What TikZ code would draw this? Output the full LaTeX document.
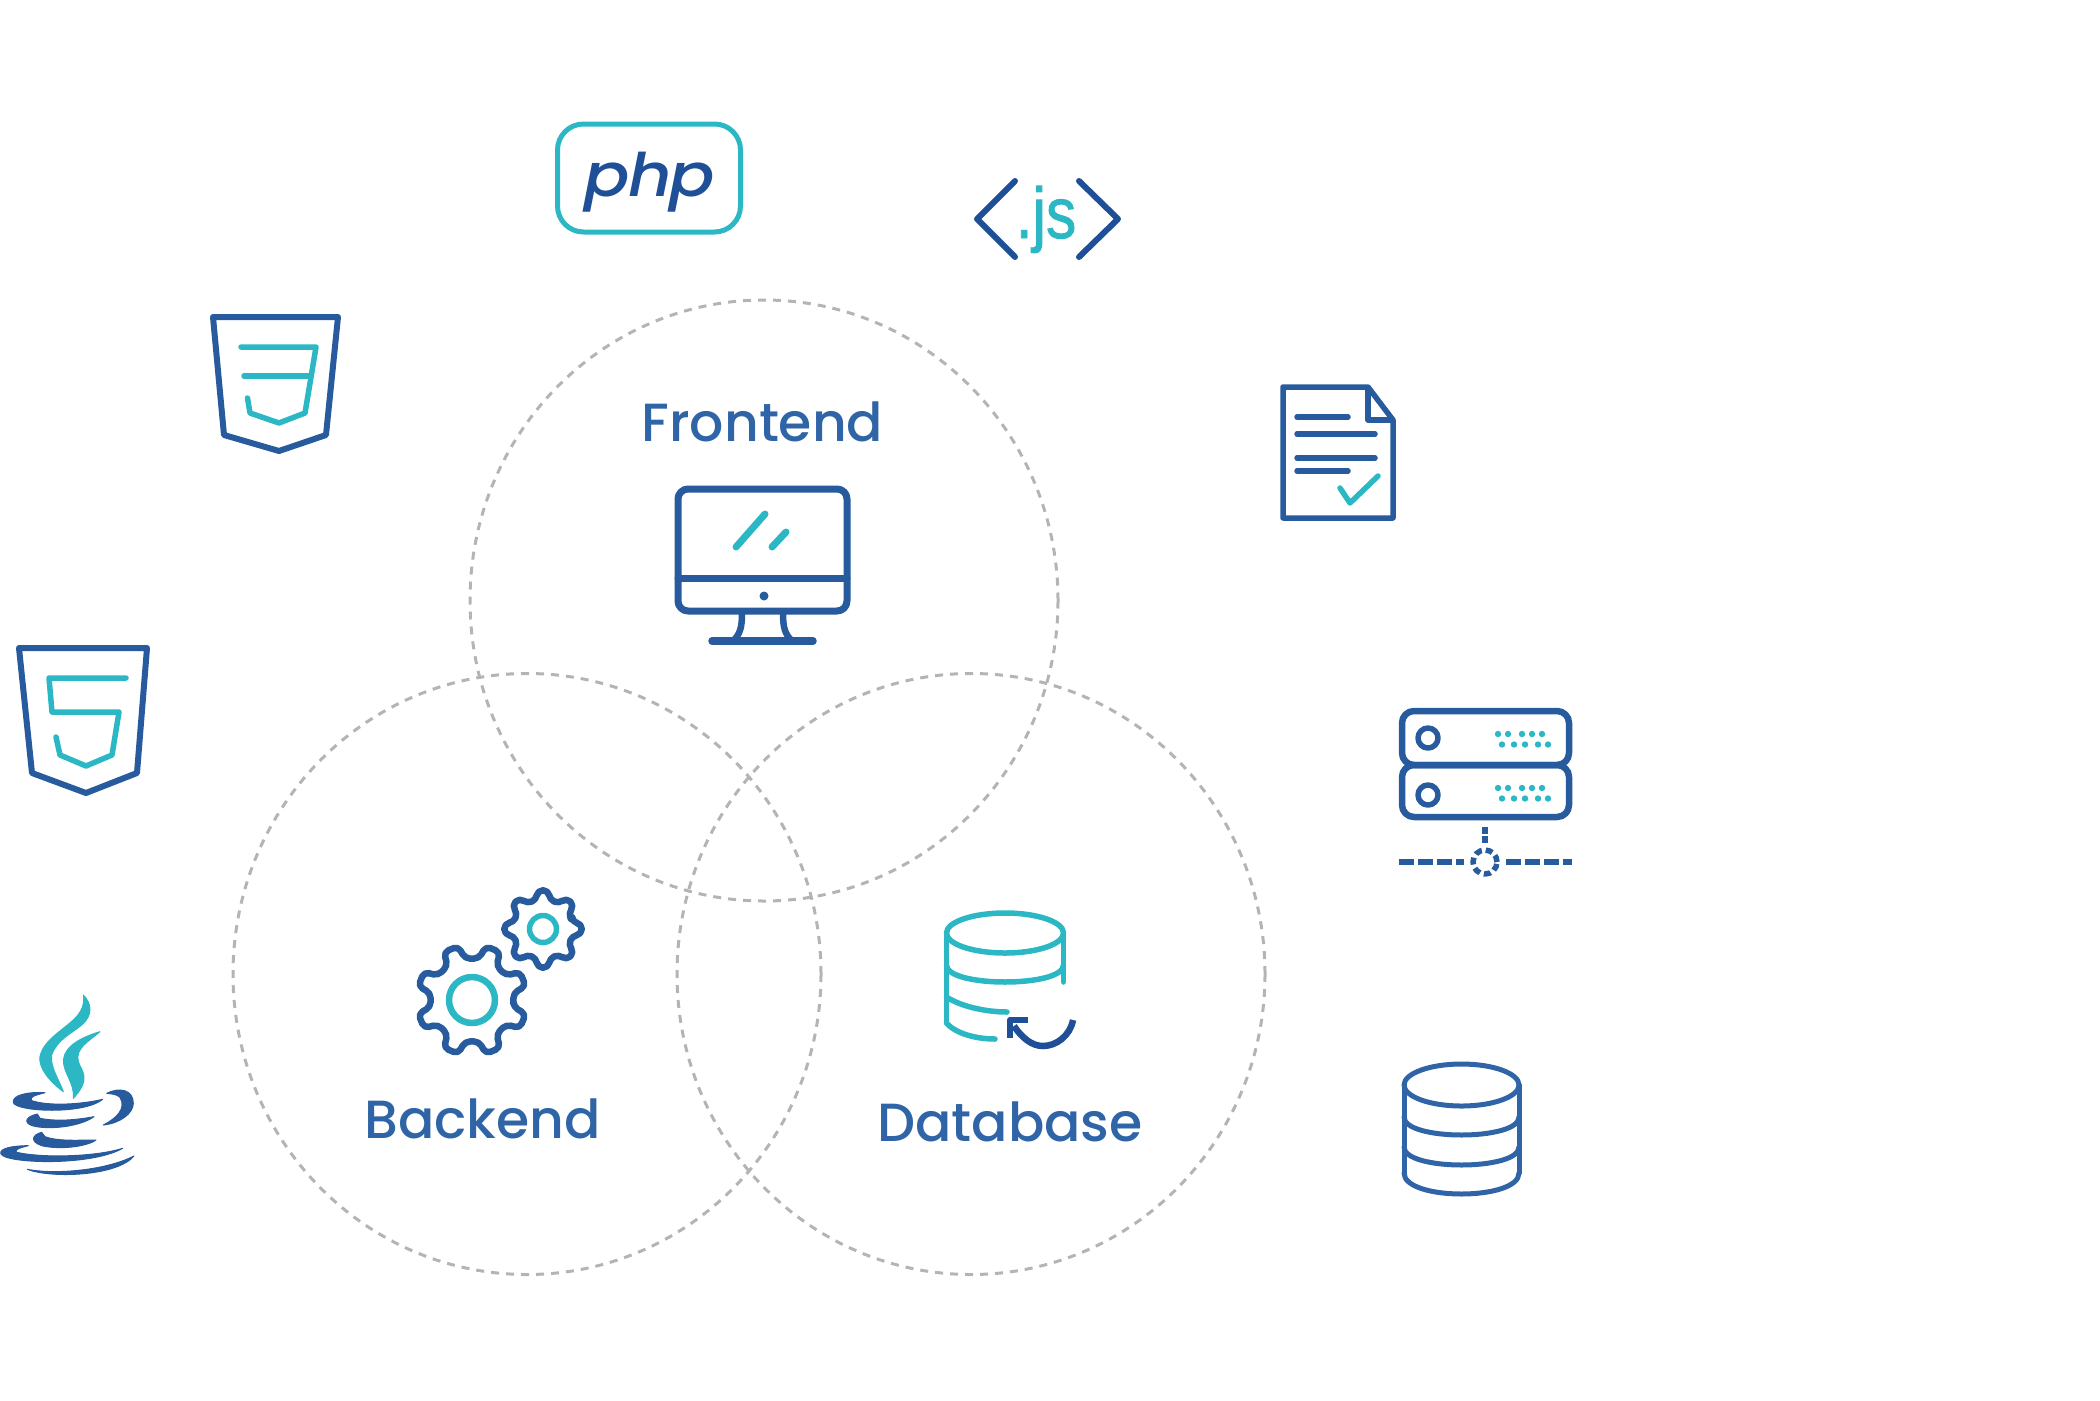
\documentclass[tikz,border=0pt]{standalone}
\usepackage{fontspec}
\newfontfamily\pop{Poppins}[UprightFont=* Medium,ItalicFont=* Medium Italic]
\newfontfamily\lib{Liberation Sans}[FakeBold=1.3]
\definecolor{navy}{HTML}{275B9E}
\definecolor{deep}{HTML}{1F4F96}
\definecolor{labelblue}{HTML}{2F65A6}
\definecolor{teal}{HTML}{2BB8C4}
\definecolor{ring}{HTML}{B4B4B4}
\tikzset{
  ringline/.style={draw=ring,line width=3pt,dash pattern=on 8pt off 7pt},
  navyline/.style={draw=navy,line width=#1,line join=round,line cap=round},
  navyline/.default=6pt,
  tealline/.style={draw=teal,line width=#1,line join=round,line cap=round},
  tealline/.default=5.5pt,
  label/.style={font=\pop\fontsize{53.7}{53.7}\selectfont,text=labelblue,anchor=base,inner sep=0pt}
}
\newcommand{\lowerarc}[4]{(#1,#3) .. controls (#1,#3+#4*1.333) and (#2,#3+#4*1.333) .. (#2,#3)}
\newcommand{\gearshape}[5]{% x y outer valley phase
  \draw[navyline=6.5pt,rounded corners=5pt]
    ($(#1,#2)+(#5-13:#4pt and -#4pt)$)
    \foreach \a in {0,45,...,315}{
      -- ($(#1,#2)+(#5+\a-13:#4pt and -#4pt)$)
      -- ($(#1,#2)+(#5+\a-8:#3pt and -#3pt)$)
      -- ($(#1,#2)+(#5+\a+8:#3pt and -#3pt)$)
      -- ($(#1,#2)+(#5+\a+13:#4pt and -#4pt)$)
    } -- cycle;}
\usetikzlibrary{calc}
\begin{document}
\begin{tikzpicture}[x=1pt,y=-1pt]
\useasboundingbox (0,0) rectangle (2100,1400);
% rings
\draw[ringline] (764,600.5) ellipse [x radius=294pt,y radius=300.5pt];
\draw[ringline] (527,974) ellipse [x radius=294pt,y radius=300.5pt];
\draw[ringline] (971,974) ellipse [x radius=294pt,y radius=300.5pt];
% labels
\node[label] (frontend) at (762.5,441.5) {Frontend};
\node[label] (backend) at (482.5,1138) {Backend};
\node[label] (database) at (1010,1141) {Database};
% php
\draw[draw=teal,line width=5pt,rounded corners=26pt] (557.5,124) rectangle (740.5,232);
\node[font=\pop\itshape\fontsize{60}{60}\selectfont,text=deep,anchor=base,inner sep=0pt,xscale=1.12,transform shape] (php) at (650,196) {p\kern-2pt h\kern-2pt p};
% js
\draw[navyline=6pt,draw=deep] (1015,181) -- (977,219) -- (1015,257);
\draw[navyline=6pt,draw=deep] (1079,181) -- (1118,219) -- (1079,257);
\node[font=\lib\fontsize{72}{72}\selectfont,text=teal,anchor=base,inner sep=0pt,xscale=.84,transform shape] (js) at (1046,238) {.js};
% css shield
\draw[navyline] (213,317) -- (338,317) -- (326,435) -- (279,451) -- (224,435) -- cycle;
\draw[tealline] (241,347) -- (316,347) -- (305,413) -- (279,423) -- (250,413) -- (247.5,398);
\draw[tealline] (244,376) -- (310,376);
% html shield
\draw[navyline] (19,648) -- (147,648) -- (137,773) -- (86,793) -- (32,773) -- cycle;
\draw[tealline] (126,678) -- (49,678) -- (52,712) -- (119,712) -- (112,755) -- (86,766) -- (60,755) -- (56,737);
% document
\draw[navyline=5.5pt,line cap=butt] (1283,387) -- (1368,387) -- (1393,420) -- (1393,518) -- (1283,518) -- cycle;
\draw[navyline=5.5pt,line cap=butt] (1368,387) -- (1368,420) -- (1393,420);
\draw[navyline=5.5pt] (1297,417) -- (1348,417);
\draw[navyline=5.5pt] (1297,434) -- (1375,434);
\draw[navyline=5.5pt] (1297,458) -- (1375,458);
\draw[navyline=5.5pt] (1297,471) -- (1348,471);
\draw[tealline] (1340,488) -- (1350,503) -- (1378,476);
% monitor
\draw[navyline=7pt,rounded corners=10pt] (678,489) rectangle (847,611);
\draw[navyline=7pt] (678,578) -- (847,578);
\fill[navy] (764,596) circle [radius=4.5pt];
\draw[tealline=7pt] (736,547) -- (765,514);
\draw[tealline=7pt] (772,547) -- (786,532);
\draw[navyline=6.5pt] (742,613) .. controls (742,628) and (740,634) .. (733,641);
\draw[navyline=6.5pt] (783,613) .. controls (783,628) and (785,634) .. (792,641);
\draw[navyline=7.5pt] (712,641) -- (813,641);
% gears
\gearshape{472}{1000}{55.5}{42}{22.5}
\gearshape{543}{929}{39}{30}{0}
\draw[tealline=6.5pt] (472,1000) circle [radius=23pt];
\draw[tealline=5.5pt] (543,929) circle [radius=13.5pt];
% teal db
\draw[tealline] (1005,933) ellipse [x radius=58.5pt,y radius=20pt];
\draw[tealline] (946.5,933) -- (946.5,1023);
\draw[tealline] (1063.5,933) -- (1063.5,982);
\draw[tealline] \lowerarc{946.5}{1063.5}{965}{17};
\draw[tealline] (946.5,997) .. controls (960,1006) and (985,1012) .. (1007,1012);
\draw[tealline] (946.5,1023) .. controls (955,1033) and (975,1039) .. (995,1039);
\draw[navyline=6.5pt,draw=deep,line cap=butt] (1073,1020) .. controls (1070,1036) and (1056,1046) .. (1043,1046) .. controls (1032,1046) and (1022,1038) .. (1014,1026);
\draw[navyline=6.5pt,draw=deep,line cap=butt] (1028,1020) -- (1010,1020) -- (1010,1038);
% server
\draw[navyline=6.5pt,rounded corners=12pt] (1402,711) rectangle (1569,765);
\draw[navyline=6.5pt,rounded corners=12pt] (1402,765) rectangle (1569,817);
\draw[navyline=5.5pt] (1428,738) circle [radius=10pt];
\draw[navyline=5.5pt] (1428,795) circle [radius=10pt];
\foreach \yy in {734,788}{
  \foreach \xx in {1498,1508,1522,1532,1542}{\fill[teal] (\xx,\yy) circle [radius=3.2pt];}
  \foreach \xx in {1502,1514,1525,1538,1548}{\fill[teal] (\xx,\yy+10.5) circle [radius=3.2pt];}
}
\draw[navyline=5.5pt,line cap=butt,dash pattern=on 7pt off 2pt] (1485,827) -- (1485,845);
\draw[navyline=5.5pt,line cap=butt,dash pattern=on 7pt off 4pt] (1485,862) circle [radius=12pt];
\draw[navyline=5.5pt,line cap=butt,dash pattern=on 15pt off 4pt] (1399,862) -- (1464,862);
\draw[navyline=5.5pt,line cap=butt,dash pattern=on 15pt off 4pt] (1506,862) -- (1572,862);
% right db
\draw[navyline=5pt,draw=labelblue] (1461.5,1085) ellipse [x radius=57.5pt,y radius=21pt];
\draw[navyline=5pt,draw=labelblue] (1404,1085) -- (1404,1173);
\draw[navyline=5pt,draw=labelblue] (1519,1085) -- (1519,1173);
\draw[navyline=5pt,draw=labelblue] \lowerarc{1404}{1519}{1117}{18};
\draw[navyline=5pt,draw=labelblue] \lowerarc{1404}{1519}{1147}{18};
\draw[navyline=5pt,draw=labelblue] \lowerarc{1404}{1519}{1173}{21};
% java
\begin{scope}[shift={(0,980)},x=0.3333pt,y=-0.3333pt,line width=1pt,line join=round]
\filldraw[teal] (250,45) .. controls (275,70) and (280,105) .. (245,135) .. controls (215,160) and (170,180) .. (155,225) .. controls (150,260) and (175,295) .. (190,335) .. controls (150,305) and (115,265) .. (120,230) .. controls (130,180) and (190,150) .. (225,115) .. controls (245,95) and (255,70) .. (250,45) -- cycle;
\filldraw[teal] (300,155) .. controls (265,185) and (225,205) .. (235,245) .. controls (245,275) and (275,295) .. (220,355) .. controls (225,310) and (190,280) .. (190,240) .. controls (195,195) and (250,170) .. (300,155) -- cycle;
\filldraw[navy] (135,338) .. controls (85,335) and (35,345) .. (40,368) .. controls (50,395) and (250,405) .. (308,358) .. controls (250,372) and (150,380) .. (95,362) .. controls (85,350) and (110,345) .. (135,338) -- cycle;
\filldraw[navy] (320,340) .. controls (360,320) and (400,330) .. (400,370) .. controls (400,400) and (360,430) .. (310,435) .. controls (350,415) and (380,385) .. (360,352) .. controls (350,342) and (335,342) .. (320,340) -- cycle;
\filldraw[navy] (112,402) .. controls (75,410) and (70,430) .. (100,438) .. controls (150,450) and (240,440) .. (282,410) .. controls (230,420) and (170,425) .. (120,415) -- cycle;
\filldraw[navy] (125,457) .. controls (95,465) and (90,485) .. (125,497) .. controls (180,510) and (260,500) .. (288,480) .. controls (240,480) and (175,485) .. (135,470) -- cycle;
\filldraw[navy] (85,497) .. controls (40,497) and (-5,505) .. (3,522) .. controls (15,550) and (270,560) .. (368,505) .. controls (290,530) and (130,535) .. (50,517) .. controls (40,510) and (60,503) .. (85,497) -- cycle;
\filldraw[navy] (82,568) .. controls (170,585) and (320,570) .. (402,528) .. controls (350,590) and (150,595) .. (82,568) -- cycle;
\end{scope}
\end{tikzpicture}
\end{document}
